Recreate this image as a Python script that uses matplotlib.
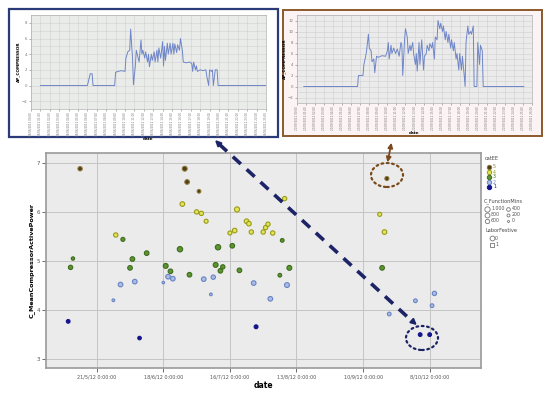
import numpy as np
import pandas as pd
import matplotlib
matplotlib.use("Agg")
import matplotlib.pyplot as plt
from matplotlib.patches import Rectangle, Ellipse, FancyArrowPatch
from matplotlib.lines import Line2D

# main scatter: date, mean compressor power, catEE, function minutes
dates = ["2012-05-14", "2012-05-11", "2012-05-10", "2012-05-09", "2012-05-28",
         "2012-05-29", "2012-05-31", "2012-06-01", "2012-06-04", "2012-06-05",
         "2012-06-06", "2012-06-08", "2012-06-11", "2012-06-18", "2012-06-19",
         "2012-06-20", "2012-06-21", "2012-06-22", "2012-06-25", "2012-06-26",
         "2012-06-27", "2012-06-28", "2012-06-29", "2012-07-02", "2012-07-03",
         "2012-07-04", "2012-07-05", "2012-07-06", "2012-07-08", "2012-07-09",
         "2012-07-10", "2012-07-11", "2012-07-12", "2012-07-13", "2012-07-16",
         "2012-07-17", "2012-07-18", "2012-07-19", "2012-07-20", "2012-07-23",
         "2012-07-24", "2012-07-25", "2012-07-26", "2012-07-27", "2012-07-30",
         "2012-07-31", "2012-08-01", "2012-08-02", "2012-08-03", "2012-08-06",
         "2012-08-07", "2012-08-08", "2012-08-10", "2012-08-09", "2012-09-17",
         "2012-09-19", "2012-09-20", "2012-09-18", "2012-09-21", "2012-10-02",
         "2012-10-04", "2012-10-08", "2012-10-09", "2012-10-10"]
power = [6.88, 5.05, 4.87, 3.77, 4.20, 5.53, 4.52, 5.44, 4.86, 5.04,
         4.58, 3.43, 5.16, 4.56, 4.90, 4.68, 4.79, 4.64, 5.24, 6.16,
         6.88, 6.61, 4.72, 6.00, 6.42, 5.97, 4.63, 5.81, 4.32, 4.67,
         4.92, 5.28, 4.80, 4.88, 5.57, 5.31, 5.62, 6.05, 4.81, 5.81,
         5.76, 5.59, 4.55, 3.66, 5.59, 5.68, 5.75, 4.23, 5.57, 4.71,
         5.42, 6.27, 4.86, 4.51, 5.95, 5.59, 6.68, 4.86, 3.92, 4.19,
         3.50, 3.50, 4.09, 4.34]
cat_ee = [5, 3, 3, 1, 2, 4, 2, 3, 3, 3,
          2, 1, 3, 2, 3, 2, 3, 2, 3, 4,
          5, 5, 3, 4, 5, 4, 2, 4, 2, 2,
          3, 3, 3, 3, 4, 3, 4, 4, 3, 4,
          4, 4, 2, 1, 4, 4, 4, 2, 4, 3,
          3, 4, 3, 2, 4, 4, 5, 3, 2, 2,
          1, 1, 2, 2]
func_mins = [600, 300, 600, 400, 150, 600, 700, 500, 700, 700,
             700, 350, 700, 100, 800, 700, 700, 700, 1000, 700,
             800, 700, 700, 600, 400, 600, 700, 500, 150, 600,
             800, 1000, 700, 600, 500, 700, 700, 900, 700, 700,
             700, 600, 700, 450, 600, 600, 600, 700, 600, 400,
             400, 600, 800, 800, 500, 700, 500, 700, 400, 400,
             400, 400, 400, 600]

cat_face = {5: "#4f3c14", 4: "#e2e555", 3: "#5c9630", 2: "#a9bde6", 1: "#14148c"}
cat_edge = {5: "#8c7a3c", 4: "#9a9a1a", 3: "#3f6b1e", 2: "#6a83c2", 1: "#14148c"}

main_ticks = ["2012-05-21", "2012-06-18", "2012-07-16", "2012-08-13", "2012-09-10", "2012-10-08"]
main_tick_labels = ["21/5/12 0:00:00", "18/6/12 0:00:00", "16/7/12 0:00:00",
                    "13/8/12 0:00:00", "10/9/12 0:00:00", "8/10/12 0:00:00"]

# inset 1 (left) compressor trace, x in tick units
ap1_x = [1.0, 6.0, 6.1, 6.3, 6.5, 6.6, 8.9, 9.0, 9.3, 9.6, 10.0, 10.1, 10.3, 10.5, 10.6,
         10.8, 10.9, 11.1, 11.2, 11.3, 11.5, 11.7, 11.8, 11.9, 12.1, 12.2, 12.4, 12.5,
         12.6, 12.8, 12.9, 13.1, 13.2, 13.4, 13.5, 13.6, 13.8, 14.0, 14.1, 14.2, 14.3,
         14.5, 14.6, 14.8, 14.9, 15.1, 15.2, 15.3, 15.5, 15.6, 15.8, 15.9, 16.1, 16.2,
         16.5, 16.9, 17.1, 17.2, 17.3, 17.5, 17.6, 17.7, 18.0, 18.3, 18.6, 18.7, 18.9,
         19.0, 19.2, 19.3, 19.4, 19.6, 19.8, 19.9, 25.0]
ap1_y = [0, 0, 0.5, 1.5, 1.5, 0, 0, 1.7, 1.8, 1.9, 1.8, 3.5, 4.3, 4.5, 7.2,
         3.5, 0.1, 2.5, 4.5, 4.0, 3.0, 5.8, 4.0, 4.5, 3.5, 4.3, 3.0, 4.0,
         2.4, 4.0, 3.2, 4.3, 3.0, 4.5, 3.0, 4.8, 3.5, 5.6, 2.5, 5.0, 3.2,
         5.4, 4.0, 5.4, 4.0, 5.4, 4.0, 5.3, 4.2, 5.2, 4.5, 6.0, 4.5, 3.0,
         2.9, 3.0, 2.8, 1.8, 3.0, 2.0, 2.5, 1.8, 2.0, 1.9, 2.0, 1.2, 0.0,
         2.0, 1.8, 2.0, 0.0, 2.0, 2.0, 0.0, 0]

# inset 2 (right) compressor trace
ap2_x = [0.75, 6.7, 6.8, 7.3, 7.4, 7.6, 7.7, 7.9, 8.0, 8.2, 8.3, 8.5, 8.6, 8.8, 9.0,
         9.4, 9.8, 10.0, 10.1, 10.2, 10.4, 10.5, 10.7, 10.9, 11.1, 11.3, 11.5, 11.6,
         11.7, 11.9, 12.0, 12.2, 12.3, 12.5, 12.6, 12.8, 12.9, 13.1, 13.2, 13.3, 13.5,
         13.6, 13.8, 14.0, 14.1, 14.3, 14.4, 14.6, 14.7, 14.9, 15.0, 15.2, 15.3, 15.5,
         15.6, 15.8, 15.9, 16.1, 16.2, 16.4, 16.5, 16.7, 16.8, 17.0, 17.1, 17.3, 17.4,
         17.6, 17.7, 17.9, 18.0, 18.2, 18.3, 18.5, 18.6, 18.7, 18.9, 19.0, 19.2, 19.3,
         19.5, 19.6, 19.9, 20.0, 20.2, 20.3, 20.5, 20.6, 25.1]
ap2_y = [0, 0, 2, 2, 4, 5.5, 6.5, 9.5, 7, 6.5, 4.5, 5, 2.5, 5.5, 5.3,
         5.6, 5.5, 6.5, 8.0, 5.0, 7.5, 6.0, 7.0, 6.0, 6.8, 5.5, 8.0, 7.5,
         2.0, 8.5, 10.5, 9.0, 6.0, 7.5, 6.5, 8.0, 6.0, 4.0, 6.0, 2.8, 8.0,
         4.0, 8.5, 3.0, 5.5, 6.0, 7.5, 6.5, 7.8, 7.0, 8.0, 5.0, 9.0, 8.5,
         12.0, 10.5, 11.5, 10.0, 11.0, 8.5, 10.0, 8.0, 9.5, 7.0, 8.5, 6.5, 8.0,
         5.0, 6.0, 3.0, 6.0, 3.0, 5.5, 2.0, 0.0, 8.0, 11.0, 9.5, 10.0, 9.5,
         11.0, 0.0, 0.0, 8.0, 4.0, 7.5, 6.5, 0.0, 0]

inset1_labels = ["08/06/2012 %02d:00" % h for h in range(26)]
inset2_labels = ["20/09/2012 %02d:00" % h for h in range(27)]

W, H = 550, 399


def fx(px):
    return px / W


def fy(py):
    return 1 - py / H


fig = plt.figure(figsize=(5.5, 3.99), dpi=100)
fig.patch.set_facecolor("white")

# frames behind the two inset charts
fig.patches.append(Rectangle((fx(283), fy(136)), (542 - 283) / W, (136 - 10) / H,
                             transform=fig.transFigure, facecolor="#fcf4f4",
                             edgecolor="#8b5a2b", lw=1.4, zorder=-5))
fig.patches.append(Rectangle((fx(9), fy(137)), (278 - 9) / W, (137 - 9) / H,
                             transform=fig.transFigure, facecolor="white",
                             edgecolor="#2a3b78", lw=1.6, zorder=-5))

# ---- main scatter ----
ax = fig.add_axes([fx(46), fy(368), (481 - 46) / W, (368 - 153) / H])
ax.set_facecolor("#ebebeb")
d = pd.to_datetime(dates)
for c in [5, 4, 3, 2, 1]:
    idx = [i for i, v in enumerate(cat_ee) if v == c]
    sizes = [2 + func_mins[i] * 0.013 for i in idx]
    ax.scatter(d[idx], [power[i] for i in idx], s=sizes, c=cat_face[c],
               edgecolors=cat_edge[c], linewidths=0.8, zorder=3)
ax.set_xlim(pd.Timestamp("2012-04-29 16:00"), pd.Timestamp("2012-10-29 14:00"))
ax.set_ylim(2.82, 7.2)
ax.set_yticks([3, 4, 5, 6, 7])
ax.set_xticks(pd.to_datetime(main_ticks))
ax.set_xticklabels(main_tick_labels)
ax.tick_params(labelsize=3.5, colors="#555555", length=3, width=0.6, pad=1.5)
ax.tick_params(axis="y", labelsize=4)
ax.grid(True, color="#c4c4c4", lw=0.7)
ax.set_axisbelow(True)
for s in ax.spines.values():
    s.set_color("#9a9a9a")
    s.set_linewidth(1.2)
ax.set_xlabel("date", fontsize=5.5, fontweight="bold", labelpad=1.5)
ax.set_ylabel("C_MeanCompressorActivePower", fontsize=4.6, fontweight="bold", labelpad=1.5)

# ---- legend area ----
lg = fig.add_axes([fx(482), fy(252), (550 - 482) / W, (252 - 150) / H])
lg.set_xlim(482, 550)
lg.set_ylim(252, 150)
lg.axis("off")
lg.text(485, 159, "catEE", fontsize=3.6, color="#444444", va="center")
for k, c in enumerate([5, 4, 3, 2, 1]):
    yy = 167 + k * 5
    lg.scatter([489], [yy], s=10, c=cat_face[c], edgecolors=cat_edge[c], linewidths=0.7)
    lg.text(493, yy, str(c), fontsize=3.4, color=cat_edge[c], va="center")
lg.text(484, 201, "C_FunctionMins", fontsize=3.6, color="#444444", va="center")
size_labels = ["1.000", "800", "600", "400", "200", "0"]
size_vals = [1000, 800, 600, 400, 200, 0]
for k, (lab, v) in enumerate(zip(size_labels, size_vals)):
    col, row = divmod(k, 3)
    xx = 487 + col * 21
    yy = 209 + row * 6
    lg.scatter([xx], [yy], s=2 + v * 0.013, facecolors="white", edgecolors="#777777", linewidths=0.6)
    lg.text(xx + 4, yy, lab, fontsize=3.4, color="#555555", va="center")
lg.text(485, 231, "LaborFestive", fontsize=3.6, color="#444444", va="center")
lg.scatter([492], [238], s=12, marker="o", facecolors="white", edgecolors="#777777", linewidths=0.6)
lg.text(495, 238, "0", fontsize=3.4, color="#555555", va="center")
lg.scatter([492], [245], s=12, marker="s", facecolors="white", edgecolors="#777777", linewidths=0.6)
lg.text(495, 245, "1", fontsize=3.4, color="#555555", va="center")


def inset(rect, xs, ys, ylim, yticks, labels, bg):
    a = fig.add_axes(rect)
    a.set_facecolor(bg)
    a.plot(xs, ys, color="#6f86c8", lw=0.7)
    a.set_xlim(0, len(labels) - 1)
    a.set_ylim(*ylim)
    a.set_yticks(yticks)
    a.set_yticks(np.arange(yticks[0] - 1, yticks[-1] + 2, 2), minor=True)
    a.set_xticks(range(len(labels)))
    a.set_xticklabels(labels, rotation=90)
    a.tick_params(labelsize=2.0, colors="#777777", length=1.5, width=0.4, pad=1)
    a.tick_params(axis="y", labelsize=2.8)
    a.tick_params(which="minor", length=0)
    a.grid(True, which="both", color="#d0d0d0", lw=0.4)
    for s in a.spines.values():
        s.set_color("#b0b0b0")
        s.set_linewidth(0.5)
    a.set_ylabel("AP_COMPRESSOR", fontsize=3, fontweight="bold", labelpad=1)
    a.set_xlabel("date", fontsize=3, fontweight="bold", labelpad=0.5)
    return a


inset([fx(31), fy(109), 235 / W, 94 / H], ap1_x, ap1_y, (-2.6, 8.6),
      [-2, 0, 2, 4, 6, 8], inset1_labels, "#e9ece9")
inset([fx(297), fy(103), 235 / W, 88 / H], ap2_x, ap2_y, (-3.0, 13.0),
      [-2, 0, 2, 4, 6, 8, 10, 12], inset2_labels, "#ebebeb")

# ---- annotations: dashed navy arrow, brown arrow, dotted ellipses ----
navy = "#1c2366"
brown = "#7a4a1c"
fig.lines.append(Line2D([fx(219), fx(413)], [fy(144), fy(322)], transform=fig.transFigure,
                        color=navy, lw=2.6, linestyle=(0, (3, 2.2)), zorder=10))
for tail, head in [((222, 147), (213, 138)), ((410, 319), (419, 327))]:
    fig.add_artist(FancyArrowPatch(
        (fx(tail[0]), fy(tail[1])), (fx(head[0]), fy(head[1])),
        transform=fig.transFigure, arrowstyle="-|>", mutation_scale=8,
        color=navy, lw=1.5, zorder=11))
fig.add_artist(FancyArrowPatch(
    (fx(392), fy(140)), (fx(387), fy(165)), transform=fig.transFigure,
    arrowstyle="<|-|>", mutation_scale=7, color=brown, lw=1.3, zorder=11))
fig.add_artist(Ellipse((fx(387), fy(175)), 32 / W, 24 / H, transform=fig.transFigure,
                       fill=False, edgecolor=brown, lw=1.6, linestyle=(0, (0.8, 1.6)),
                       capstyle="round", zorder=11))
fig.add_artist(Ellipse((fx(422), fy(338)), 32 / W, 24 / H, transform=fig.transFigure,
                       fill=False, edgecolor=navy, lw=1.6, linestyle=(0, (0.8, 1.6)),
                       capstyle="round", zorder=11))

fig.savefig("out.png", dpi=100)
